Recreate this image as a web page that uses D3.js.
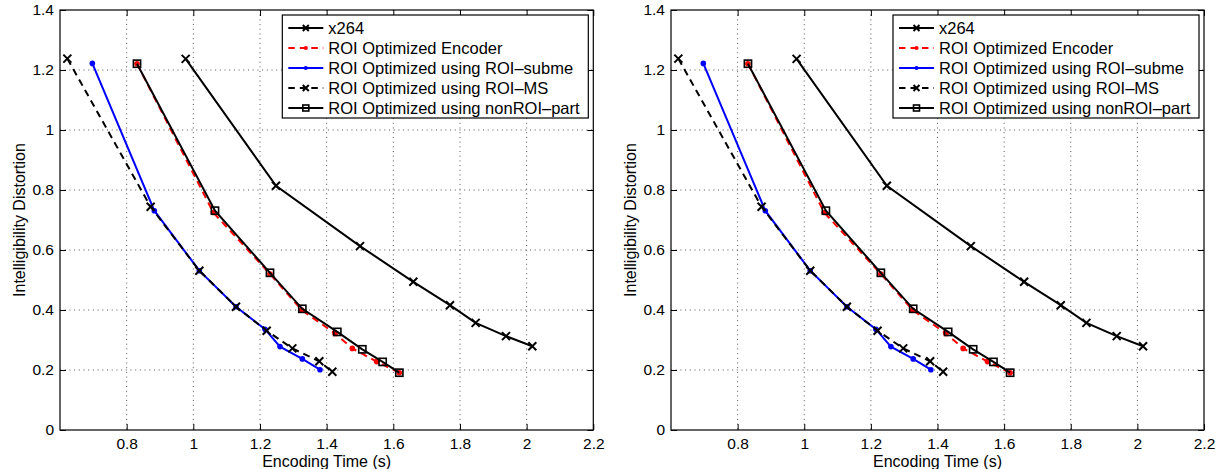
<!DOCTYPE html>
<html><head><meta charset="utf-8">
<script src="https://cdn.jsdelivr.net/npm/d3@7"></script>
<style>body{margin:0;background:#fff} svg{display:block;font-family:"Liberation Sans",Arial,Helvetica,sans-serif}</style>
</head><body><svg id="c" width="1221" height="469"></svg>
<script>
// ---- data ----
const xTicks = [0.8, 1, 1.2, 1.4, 1.6, 1.8, 2, 2.2];
const yTicks = [0, 0.2, 0.4, 0.6, 0.8, 1, 1.2, 1.4];
const seriesNames = ["x264", "ROI Optimized Encoder", "ROI Optimized using ROI\u2013subme", "ROI Optimized using ROI\u2013MS", "ROI Optimized using nonROI\u2013part"];
const x264X = [0.977, 1.248, 1.50, 1.66, 1.77, 1.847, 1.938, 2.017];
const x264Y = [1.237, 0.814, 0.613, 0.494, 0.416, 0.357, 0.313, 0.279];
const encX = [0.831, 1.06, 1.23, 1.325, 1.425, 1.477, 1.55, 1.618];
const encY = [1.221, 0.725, 0.52, 0.40, 0.322, 0.272, 0.228, 0.191];
const submeX = [0.697, 0.883, 1.018, 1.128, 1.215, 1.26, 1.327, 1.38];
const submeY = [1.222, 0.731, 0.531, 0.411, 0.336, 0.278, 0.237, 0.201];
const msX = [0.622, 0.872, 1.018, 1.128, 1.22, 1.297, 1.378, 1.417];
const msY = [1.238, 0.744, 0.531, 0.411, 0.331, 0.272, 0.229, 0.194];
const nonX = [0.831, 1.065, 1.23, 1.327, 1.432, 1.507, 1.568, 1.618];
const nonY = [1.221, 0.731, 0.524, 0.404, 0.327, 0.269, 0.227, 0.191];
const xLabel = "Encoding Time (s)";
const yLabel = "Intelligibility Distortion";

const styles = [
  {color: "#000", dash: null, marker: "x"},
  {color: "#ff0000", dash: "7,5", marker: "dot"},
  {color: "#0000ff", dash: null, marker: "dot"},
  {color: "#000", dash: "7,5", marker: "x"},
  {color: "#000", dash: null, marker: "square"}
];
const seriesData = [[x264X, x264Y], [encX, encY], [submeX, submeY], [msX, msY], [nonX, nonY]];

const svg = d3.select("#c");

function marker(g, type, color, cx, cy, s) {
  if (type === "x") {
    g.append("path").attr("d", `M${cx-s},${cy-s}L${cx+s},${cy+s}M${cx-s},${cy+s}L${cx+s},${cy-s}`)
      .attr("stroke", color).attr("stroke-width", 2).attr("fill", "none");
  } else if (type === "dot") {
    g.append("circle").attr("cx", cx).attr("cy", cy).attr("r", s * 0.7).attr("fill", color);
  } else if (type === "square") {
    g.append("rect").attr("x", cx - s).attr("y", cy - s).attr("width", 2 * s).attr("height", 2 * s)
      .attr("fill", "none").attr("stroke", color).attr("stroke-width", 1.6);
  }
}

function panel(left, right, top, bottom) {
  const x = d3.scaleLinear().domain([0.6, 2.2]).range([left, right]);
  const y = d3.scaleLinear().domain([0, 1.4]).range([bottom, top]);
  const g = svg.append("g");
  // grid
  g.append("g").selectAll("line").data(xTicks.filter(t => t < 2.2)).join("line")
    .attr("x1", d => x(d)).attr("x2", d => x(d)).attr("y1", top).attr("y2", bottom)
    .attr("stroke", "#555").attr("stroke-width", 1).attr("stroke-dasharray", "1,3.7");
  g.append("g").selectAll("line").data(yTicks.filter(t => t > 0 && t < 1.4)).join("line")
    .attr("y1", d => y(d)).attr("y2", d => y(d)).attr("x1", left).attr("x2", right)
    .attr("stroke", "#555").attr("stroke-width", 1).attr("stroke-dasharray", "1,3.7");
  // axes with inward ticks
  const fmt = d => String(+d.toFixed(1));
  const ax = g.append("g").attr("transform", `translate(0,${bottom})`)
    .call(d3.axisBottom(x).tickValues(xTicks).tickSizeInner(-6).tickSizeOuter(0).tickPadding(8).tickFormat(fmt));
  const ay = g.append("g").attr("transform", `translate(${left},0)`)
    .call(d3.axisLeft(y).tickValues(yTicks).tickSizeInner(-6).tickSizeOuter(0).tickPadding(6).tickFormat(fmt));
  const axT = g.append("g").attr("transform", `translate(0,${top})`)
    .call(d3.axisTop(x).tickValues(xTicks).tickSizeInner(-6).tickSizeOuter(0).tickFormat(""));
  const ayR = g.append("g").attr("transform", `translate(${right},0)`)
    .call(d3.axisRight(y).tickValues(yTicks).tickSizeInner(-6).tickSizeOuter(0).tickFormat(""));
  [ax, ay, axT, ayR].forEach(a => {
    a.select(".domain").remove();
    a.selectAll("line").attr("stroke", "#000").attr("stroke-width", 1);
    a.selectAll("text").attr("font-size", 15.5).attr("fill", "#000").attr("font-family", "Liberation Sans, Arial, sans-serif");
  });
  g.append("rect").attr("x", left).attr("y", top).attr("width", right - left).attr("height", bottom - top)
    .attr("fill", "none").attr("stroke", "#000").attr("stroke-width", 1.2);

  // series
  const line = d3.line().x(d => x(d[0])).y(d => y(d[1]));
  seriesData.forEach((sd, i) => {
    const st = styles[i];
    const pts = sd[0].map((v, k) => [v, sd[1][k]]);
    g.append("path").datum(pts).attr("d", line).attr("fill", "none")
      .attr("stroke", st.color).attr("stroke-width", 2).attr("stroke-dasharray", st.dash);
    const mg = g.append("g");
    pts.forEach(p => marker(mg, st.marker, st.color, x(p[0]), y(p[1]), st.marker === "square" ? 3.6 : 4));
  });

  // legend
  const lx = right - 311, ly = top + 5, lw = 306, lh = 103;
  const lg = g.append("g");
  lg.append("rect").attr("x", lx).attr("y", ly).attr("width", lw).attr("height", lh)
    .attr("fill", "#fff").attr("stroke", "#000").attr("stroke-width", 1.2);
  seriesNames.forEach((n, i) => {
    const st = styles[i];
    const cy = ly + 13 + i * 20;
    lg.append("line").attr("x1", lx + 6).attr("x2", lx + 41).attr("y1", cy).attr("y2", cy)
      .attr("stroke", st.color).attr("stroke-width", 2).attr("stroke-dasharray", st.dash ? "6.5,5" : null);
    marker(lg, st.marker, st.color, lx + 23.5, cy, 3);
    lg.append("text").attr("x", lx + 46).attr("y", cy + 6).attr("font-size", 16.5).attr("fill", "#000").text(n);
  });

  // axis labels
  g.append("text").attr("x", (left + right) / 2).attr("y", 467).attr("text-anchor", "middle")
    .attr("font-size", 16).text(xLabel);
  g.append("text").attr("transform", `translate(${left - 35},${(top + bottom) / 2}) rotate(-90)`)
    .attr("text-anchor", "middle").attr("font-size", 16).text(yLabel);
}

panel(60, 593.3, 10, 430);
panel(671, 1204, 10, 430);
</script></body></html>
